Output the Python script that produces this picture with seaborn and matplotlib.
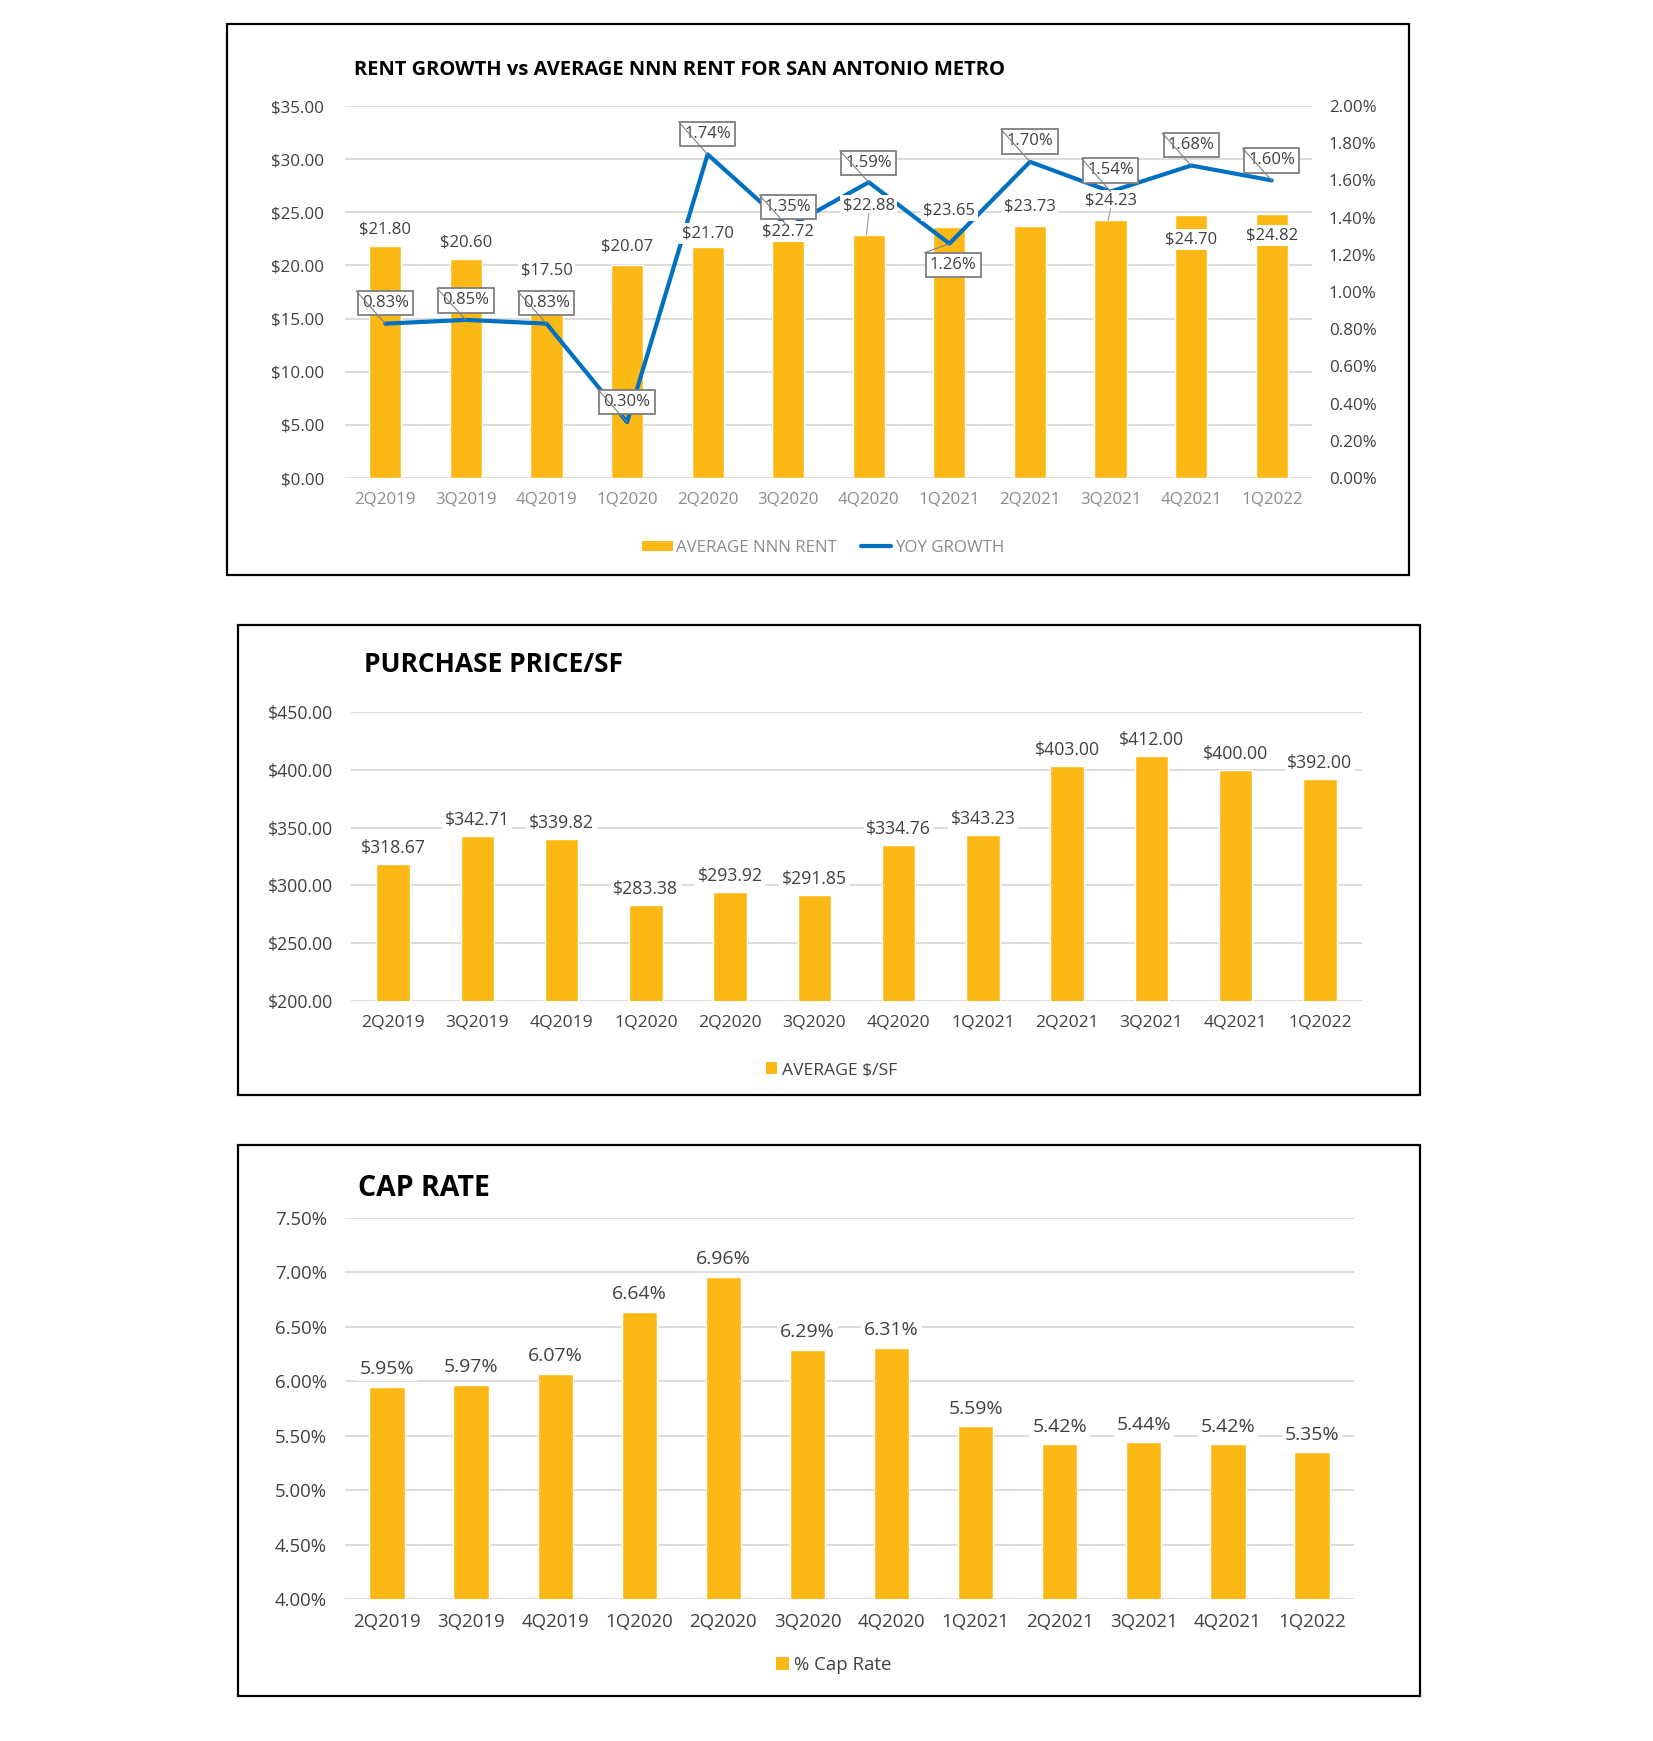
import numpy as np
import matplotlib
matplotlib.use("Agg")
import matplotlib.pyplot as plt
import seaborn as sns
from matplotlib.patches import Rectangle, Patch
from matplotlib.lines import Line2D
import matplotlib.ticker as mticker

# ---------------- data ----------------
quarters = ["2Q2019", "3Q2019", "4Q2019", "1Q2020", "2Q2020", "3Q2020",
            "4Q2020", "1Q2021", "2Q2021", "3Q2021", "4Q2021", "1Q2022"]
avg_nnn_rent = [21.80, 20.60, 17.50, 20.07, 21.70, 22.72, 22.88, 23.65, 23.73, 24.23, 24.70, 24.82]
yoy_growth = [0.83, 0.85, 0.83, 0.30, 1.74, 1.35, 1.59, 1.26, 1.70, 1.54, 1.68, 1.60]
avg_price_psf = [318.67, 342.71, 339.82, 283.38, 293.92, 291.85, 334.76, 343.23, 403.00, 412.00, 400.00, 392.00]
cap_rate = [5.95, 5.97, 6.07, 6.64, 6.96, 6.29, 6.31, 5.59, 5.42, 5.44, 5.42, 5.35]

title1 = "RENT GROWTH vs AVERAGE NNN RENT FOR SAN ANTONIO METRO"
title2 = "PURCHASE PRICE/SF"
title3 = "CAP RATE"

# label placement (style, not data)
rent_label_offset = [1.6, 1.6, 2.0, 1.7, 1.3, 0.5, 2.8, 1.5, 1.8, 1.9, -2.3, -2.0]
rent_label_leader = [False, False, False, False, False, False, True, False, False, True, False, False]
growth_label_offset = [0.11, 0.105, 0.11, 0.11, 0.11, 0.107, 0.105, -0.114, 0.11, 0.114, 0.11, 0.107]
growth_label_dx = [0, 0, 0, 0, 0, 0, 0, 0.05, 0, 0, 0, 0]

YEL = "#FCB916"
BLUE = "#0070C0"
GRID = "#D9D9D9"
DARK = "#404040"
GRAY = "#8C8C8C"

sns.set_theme(style="white")
plt.rcParams["font.family"] = ["Open Sans", "DejaVu Sans"]

W, H = 1653, 1741
fig = plt.figure(figsize=(W / 100, H / 100), dpi=100)


def frame(x0, y0, x1, y1):
    fig.patches.append(Rectangle((x0 / W, 1 - y1 / H), (x1 - x0) / W, (y1 - y0) / H,
                                 transform=fig.transFigure, fill=False,
                                 edgecolor="black", lw=1.6))


def axes_px(x0, y0, x1, y1):
    return fig.add_axes([x0 / W, 1 - y1 / H, (x1 - x0) / W, (y1 - y0) / H])


def style_axes(ax):
    for s in ax.spines.values():
        s.set_visible(False)
    ax.set_xlabel("")
    ax.set_ylabel("")


# ================= Chart 1 =================
frame(227, 24, 1409, 575)
ax1 = axes_px(345, 106, 1312, 478)
sns.barplot(x=quarters, y=avg_nnn_rent, color=YEL, width=0.4, saturation=1, ax=ax1, zorder=2)
ax1.set_ylim(0, 35)
ax1.set_yticks(np.arange(0, 35.01, 5))
ax1.set_axisbelow(True)
ax1.yaxis.grid(True, color=GRID, lw=1.3)
ax1.xaxis.grid(False)
style_axes(ax1)
ax1.yaxis.set_major_formatter(mticker.FuncFormatter(lambda v, p: f"${v:,.2f}"))
ax1.tick_params(axis="y", length=0, pad=15, labelsize=12.2, labelcolor=DARK)
ax1.tick_params(axis="x", length=0, pad=10, labelsize=12.2, labelcolor=GRAY)

ax1b = ax1.twinx()
sns.lineplot(x=np.arange(len(quarters)), y=yoy_growth, ax=ax1b, color=BLUE, lw=3, zorder=3)
ax1b.set_ylim(0, 2.0)
ax1b.set_yticks(np.arange(0, 2.001, 0.2))
ax1b.yaxis.set_major_formatter(mticker.FuncFormatter(lambda v, p: f"{v:.2f}%"))
ax1b.tick_params(axis="y", length=0, pad=12, labelsize=12.2, labelcolor=DARK)
style_axes(ax1b)
ax1.set_xlim(-0.5, len(quarters) - 0.5)

# bar labels (drawn on twin axes so they sit above the line)
for i, (v, off, lead) in enumerate(zip(avg_nnn_rent, rent_label_offset, rent_label_leader)):
    ax1b.text(i, v + off, f"${v:.2f}", transform=ax1.transData, ha="center", va="center",
              fontsize=12, color=DARK, zorder=4,
              bbox=dict(boxstyle="square,pad=0.15", fc="white", ec="none"))
    if lead:
        ax1b.plot([i, i - 0.03], [v + off - 0.8, v], transform=ax1.transData,
                  color="#A6A6A6", lw=0.9, zorder=4)

# growth labels
for i, (v, off, dx) in enumerate(zip(yoy_growth, growth_label_offset, growth_label_dx)):
    ax1b.text(i + dx, v + off, f"{v:.2f}%", ha="center", va="center", fontsize=12,
              color=DARK, zorder=5,
              bbox=dict(boxstyle="square,pad=0.25", fc="white", ec="#7F7F7F", lw=1.3))
    ax1b.plot([i + dx - 0.36, i], [v + off + 0.065, v], color="#808080", lw=0.8, zorder=6)

fig.text(354 / W, 1 - 70 / H, title1, fontsize=14.5, fontweight="bold", color="black",
         ha="left", va="center")
fig.legend(handles=[Patch(facecolor=YEL, edgecolor="none"), Line2D([0], [0], color=BLUE, lw=3)],
           labels=["AVERAGE NNN RENT", "YOY GROWTH"], loc="center",
           bbox_to_anchor=(0.498, 1 - 548 / H), ncol=2, frameon=False, fontsize=12.2,
           labelcolor=GRAY, handlelength=1.8, handleheight=0.55, columnspacing=1.4,
           handletextpad=0.2)

# ================= Chart 2 =================
frame(238, 625, 1420, 1095)
ax2 = axes_px(351, 712, 1362, 1001)
sns.barplot(x=quarters, y=avg_price_psf, color=YEL, width=0.4, saturation=1, ax=ax2, zorder=2)
ax2.set_ylim(200, 450)
ax2.set_yticks(np.arange(200, 450.1, 50))
ax2.set_xlim(-0.5, len(quarters) - 0.5)
ax2.set_axisbelow(True)
ax2.yaxis.grid(True, color=GRID, lw=1.3)
ax2.xaxis.grid(False)
style_axes(ax2)
ax2.yaxis.set_major_formatter(mticker.FuncFormatter(lambda v, p: f"${v:,.2f}"))
ax2.tick_params(axis="y", length=0, pad=13, labelsize=12.7, labelcolor=DARK)
ax2.tick_params(axis="x", length=0, pad=10, labelsize=12.6, labelcolor=DARK)
ax2.bar_label(ax2.containers[0], labels=[f"${v:.2f}" for v in avg_price_psf], padding=5,
              fontsize=12.7, color=DARK,
              bbox=dict(boxstyle="square,pad=0.15", fc="white", ec="none"))
fig.text(364 / W, 1 - 665 / H, title2, fontsize=19, fontweight="bold", color="black",
         ha="left", va="center")
fig.legend(handles=[Patch(facecolor=YEL, edgecolor="none")], labels=["AVERAGE $/SF"],
           loc="center", bbox_to_anchor=(0.503, 1 - 1070 / H), frameon=False, fontsize=12.6,
           labelcolor=DARK, handlelength=0.65, handleheight=0.65, handletextpad=0.3)

# ================= Chart 3 =================
frame(238, 1145, 1420, 1696)
ax3 = axes_px(345, 1218, 1354, 1599)
sns.barplot(x=quarters, y=cap_rate, color=YEL, width=0.42, saturation=1, ax=ax3, zorder=2)
ax3.set_ylim(4.0, 7.5)
ax3.set_yticks(np.arange(4.0, 7.51, 0.5))
ax3.set_xlim(-0.5, len(quarters) - 0.5)
ax3.set_axisbelow(True)
ax3.yaxis.grid(True, color=GRID, lw=1.3)
ax3.xaxis.grid(False)
style_axes(ax3)
ax3.yaxis.set_major_formatter(mticker.FuncFormatter(lambda v, p: f"{v:.2f}%"))
ax3.tick_params(axis="y", length=0, pad=13, labelsize=13.4, labelcolor=DARK)
ax3.tick_params(axis="x", length=0, pad=10, labelsize=13.4, labelcolor=DARK)
ax3.bar_label(ax3.containers[0], labels=[f"{v:.2f}%" for v in cap_rate], padding=6,
              fontsize=14, color=DARK,
              bbox=dict(boxstyle="square,pad=0.15", fc="white", ec="none"))
fig.text(358 / W, 1 - 1188 / H, title3, fontsize=20.5, fontweight="bold", color="black",
         ha="left", va="center")
fig.legend(handles=[Patch(facecolor=YEL, edgecolor="none")], labels=["% Cap Rate"],
           loc="center", bbox_to_anchor=(0.5045, 1 - 1665 / H), frameon=False, fontsize=13.4,
           labelcolor=DARK, handlelength=0.65, handleheight=0.65, handletextpad=0.3)

fig.savefig("out.png", dpi=100, facecolor="white")
